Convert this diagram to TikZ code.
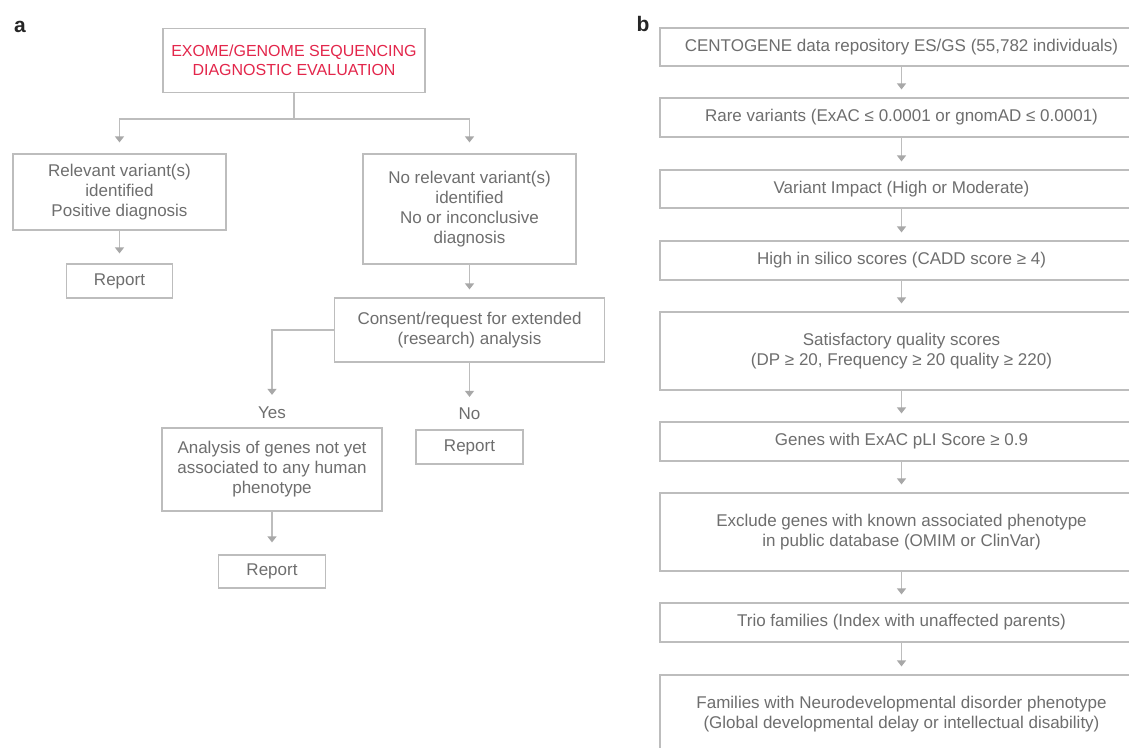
\documentclass[tikz,border=0pt]{standalone}
\usepackage{fontspec}
\setmainfont{Liberation Sans}
\usetikzlibrary{arrows.meta}
\definecolor{boxgray}{HTML}{BDBDBD}
\definecolor{tipgray}{HTML}{A8A8A8}
\definecolor{txtgray}{HTML}{6E6E6E}
\definecolor{titlered}{HTML}{E3264B}
\tikzset{
  box/.style={draw=boxgray, line width=1.2pt, inner sep=0pt, align=center,
    text=txtgray, font=\fontsize{17}{20}\selectfont},
  lbl/.style={inner sep=0pt, text=txtgray, font=\fontsize{17}{20}\selectfont},
  conn/.style={draw=boxgray, line width=1.2pt},
  arr/.style={conn, -{Triangle[width=9pt,length=6pt,color=tipgray]}},
  panel/.style={inner sep=0pt, font=\fontsize{21}{24}\selectfont\bfseries, text=black!85},
}
\begin{document}
\begin{tikzpicture}[x=1pt,y=-1pt]
\clip (0,0) rectangle (1129,747);
\fill[white] (0,0) rectangle (1129,747);
% panel labels
\node[panel] (pa) at (20,27) {a};
\node[panel] (pb) at (643,24) {b};
% ---------- panel a ----------
\node[box, minimum width=262pt, minimum height=64pt, text=titlered,
  font=\fontsize{16}{19.5}\selectfont] (title) at (294,60.5)
  {EXOME/GENOME SEQUENCING\\DIAGNOSTIC EVALUATION};
\node[box, minimum width=213pt, minimum height=76pt] (pos) at (119.5,192)
  {Relevant variant(s)\\identified\\Positive diagnosis};
\node[box, minimum width=106pt, minimum height=34pt] (rep1) at (119.5,281) {Report};
\node[box, minimum width=213pt, minimum height=110pt] (neg) at (469.5,209)
  {No relevant variant(s)\\identified\\No or inconclusive\\diagnosis};
\node[box, minimum width=270pt, minimum height=64pt] (consent) at (469.5,330)
  {Consent/request for extended\\(research) analysis};
\node[lbl] (yes) at (272,413) {Yes};
\node[box, minimum width=220pt, minimum height=83pt] (analysis) at (272,469.5)
  {Analysis of genes not yet\\associated to any human\\phenotype};
\node[box, minimum width=107pt, minimum height=33pt] (rep2) at (272,571.5) {Report};
\node[lbl] (no) at (469.5,414) {No};
\node[box, minimum width=107pt, minimum height=34pt] (rep3) at (469.5,447) {Report};

\coordinate (split) at (294,119);
\draw[conn] (title.south) -- (split);
\draw[arr, shorten >=11pt] (split) -| (pos.north);
\draw[arr, shorten >=11pt] (split) -| (neg.north);
\draw[arr, shorten >=10pt] (pos.south) -- (rep1.north);
\draw[arr, shorten >=8pt] (neg.south) -- (consent.north);
\draw[arr, shorten >=12pt] (consent.west) -| (yes.north);
\draw[arr, shorten >=11pt] (consent.south) -- (no.north);
\draw[arr, shorten >=12pt] (analysis.south) -- (rep2.north);

% ---------- panel b ----------
\node[box, minimum width=483pt, minimum height=38pt] (b1) at (901.5,47)
  {CENTOGENE data repository ES/GS (55,782 individuals)};
\node[box, minimum width=483pt, minimum height=39pt] (b2) at (901.5,117.5)
  {Rare variants (ExAC ≤ 0.0001 or gnomAD ≤ 0.0001)};
\node[box, minimum width=483pt, minimum height=38pt] (b3) at (901.5,189)
  {Variant Impact (High or Moderate)};
\node[box, minimum width=483pt, minimum height=39pt] (b4) at (901.5,260.5)
  {High in silico scores (CADD score ≥ 4)};
\node[box, minimum width=483pt, minimum height=78pt] (b5) at (901.5,351)
  {Satisfactory quality scores\\(DP ≥ 20, Frequency ≥ 20 quality ≥ 220)};
\node[box, minimum width=483pt, minimum height=39pt] (b6) at (901.5,441.5)
  {Genes with ExAC pLI Score ≥ 0.9};
\node[box, minimum width=483pt, minimum height=78pt] (b7) at (901.5,532)
  {Exclude genes with known associated phenotype\\in public database (OMIM or ClinVar)};
\node[box, minimum width=483pt, minimum height=39pt] (b8) at (901.5,622.5)
  {Trio families (Index with unaffected parents)};
\node[box, minimum width=483pt, minimum height=78pt] (b9) at (901.5,714)
  {Families with Neurodevelopmental disorder phenotype\\(Global developmental delay or intellectual disability)};

\foreach \a/\b in {b1/b2,b2/b3,b3/b4,b4/b5,b5/b6,b6/b7,b7/b8,b8/b9}
  \draw[arr, shorten >=8pt] (\a.south) -- (\b.north);
\end{tikzpicture}
\end{document}
